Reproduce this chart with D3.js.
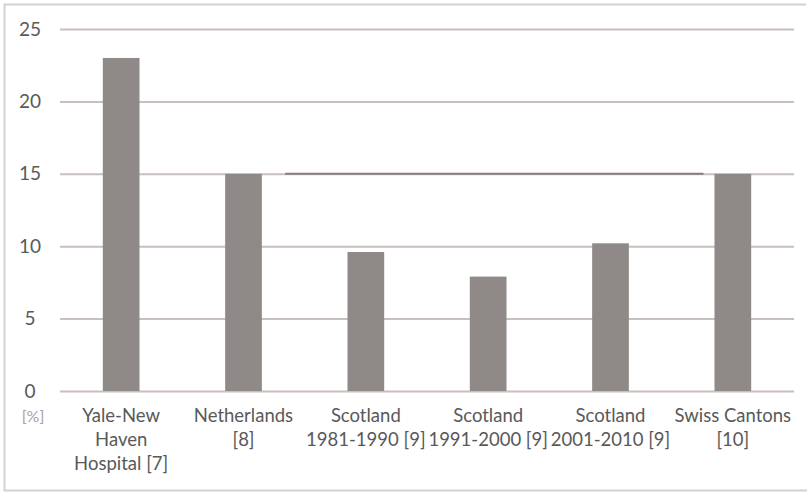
<!DOCTYPE html>
<html><head><meta charset="utf-8">
<script src="https://cdn.jsdelivr.net/npm/d3@7"></script>
<style>body{margin:0;background:#fff}svg{display:block}text{font-family:Lato,"Open Sans",sans-serif}</style>
</head><body><svg id="c" width="807" height="492"></svg>
<script>
const categories = [["Yale-New","Haven","Hospital [7]"],["Netherlands","[8]"],["Scotland","1981-1990 [9]"],["Scotland","1991-2000 [9]"],["Scotland","2001-2010 [9]"],["Swiss Cantons","[10]"]];
const values = [23, 15, 9.6, 7.9, 10.2, 15];
const yTicks = [0, 5, 10, 15, 20, 25];
const refValue = 15;
const refSpan = [1.34, 4.76]; // in category index units
const unitLabel = "[%]";

const svg = d3.select("#c");
const W = 807, H = 492;
const m = {l: 60, r: 13, t: 29, b: 101};
const keys = categories.map((d,i)=>i);
const x = d3.scaleBand().domain(keys).range([m.l, W - m.r]).paddingInner(0.7).paddingOuter(0.35);
const y = d3.scaleLinear().domain([0, 25]).range([H - m.b, m.t]);
const xi = d3.scaleLinear().domain([0, keys.length - 1]).range([x(0) + x.bandwidth()/2, x(keys.length-1) + x.bandwidth()/2]);

// frame
svg.append("path").attr("d", `M806,4.5H4.5V490.5H${W}`).attr("fill","none").attr("stroke","#d6d0ce").attr("stroke-width",2);

// gridlines
const ya = svg.append("g").attr("transform",`translate(${m.l},0)`)
  .call(d3.axisLeft(y).tickValues(yTicks).tickSize(-(W - m.l - m.r)).tickPadding(20));
ya.select(".domain").remove();
ya.selectAll(".tick line").attr("stroke","#c9bfbc").attr("stroke-width",2);
ya.selectAll(".tick text").attr("fill","#595959").attr("font-size",19).attr("text-anchor","middle").attr("x",-30);

// bars
svg.selectAll("rect.bar").data(values).enter().append("rect").attr("class","bar")
  .attr("x",(d,i)=>x(i)).attr("width",x.bandwidth())
  .attr("y",d=>y(d)).attr("height",d=>y(0)-y(d)).attr("fill","#8f8a87");

// reference line
svg.append("line").attr("x1",xi(refSpan[0])).attr("x2",xi(refSpan[1]))
  .attr("y1",y(refValue)).attr("y2",y(refValue)).attr("stroke","#857f7c").attr("stroke-width",2);

// category labels
const lab = svg.append("g");
categories.forEach((lines,i)=>{
  const t = lab.append("text").attr("x", x(i)+x.bandwidth()/2).attr("y", y(0)+31)
    .attr("text-anchor","middle").attr("fill","#595959").attr("font-size",18.5);
  lines.forEach((s,j)=>t.append("tspan").attr("x", x(i)+x.bandwidth()/2).attr("dy", j?24:0).text(s));
});
svg.append("text").attr("x",33).attr("y",y(0)+31).attr("text-anchor","middle")
  .attr("fill","#a8a2a0").attr("font-size",16).text(unitLabel);
</script></body></html>
